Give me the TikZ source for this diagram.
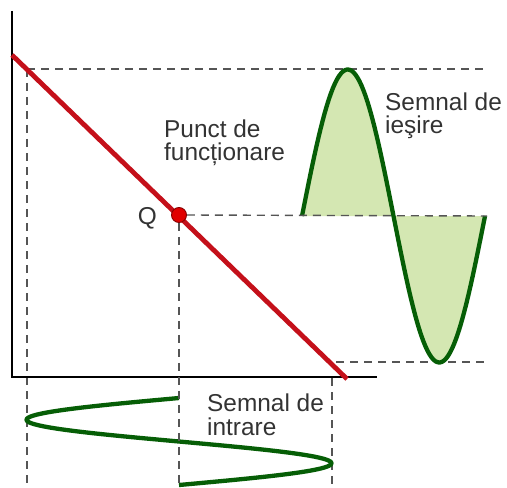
\documentclass[tikz,border=0pt]{standalone}
\usepackage{fontspec}
\setmainfont{Liberation Sans}
\usepackage{xcolor}
\usetikzlibrary{positioning,calc}

\definecolor{loadred}{HTML}{C4101A}
\definecolor{dotred}{HTML}{E00000}
\definecolor{sigdark}{HTML}{065E06}
\definecolor{sigfill}{HTML}{D4E7B2}
\definecolor{guidegray}{HTML}{555555}
\definecolor{txtgray}{HTML}{333333}

\begin{document}
\begin{tikzpicture}[x=1bp, y=-1bp,
  axis/.style={draw=black, line width=1.6bp},
  guide/.style={draw=guidegray, line width=1.4bp, dash pattern=on 8bp off 6bp},
  load/.style={draw=loadred, line width=4.8bp},
  sig/.style={draw=sigdark, line width=4.3bp, line join=round},
  qdot/.style={circle, fill=dotred, draw=dotred!60!black, line width=0.9bp, minimum size=15bp, inner sep=0pt},
  lbl/.style={font=\fontsize{24.5}{23.5}\selectfont, text=txtgray, align=left, inner sep=0pt}
]
\useasboundingbox (0,0) rectangle (507,488);

% Axes
\coordinate (O) at (12,377);
\coordinate (ytop) at (12,11);
\coordinate (xend) at (377,377);

% Guide end points
\coordinate (tl) at (27,69);
\coordinate (tr) at (487,69);
\coordinate (mr) at (487,216);
\coordinate (bl) at (336,362);
\coordinate (br) at (487,362);
\coordinate (lb) at (27,488);
\coordinate (qb) at (179,488);
\coordinate (rt) at (332,378);
\coordinate (rb) at (332,488);

% Load line end points
\coordinate (rstart) at (12,55);
\coordinate (rend) at (347,379);

% Output signal fill
\fill[sigfill] (302,216) -- plot[domain=0:360, samples=90] ({302+\x/360*183},{216-146.5*sin(\x)}) -- cycle;

% Dashed guides
\draw[guide] (tl) -- (tr);
\draw[guide] (tl) -- (lb);
\draw[guide] (bl) -- (br);
\draw[guide] (rt) -- (rb);

\draw[axis] (ytop) -- (O) -- (xend);

% Output signal
\draw[sig] plot[domain=0:360, samples=90] ({302+\x/360*183},{216-146.5*sin(\x)});

% Input signal
\draw[sig] plot[domain=0:360, samples=90] ({179-152.5*sin(\x)},{398+\x/360*87});

% Load line and operating point
\draw[load] (rstart) -- (rend);
\node[qdot] (Q) at (179,215) {};
\draw[guide] (Q.east) -- (mr);
\draw[guide] (Q.south) -- (qb);

% Labels
\node[lbl, anchor=base east] (qlbl) at (157,224) {Q};
\node[lbl, anchor=base west] (punct) at (164,161) {Punct de\\funcționare};
\node[lbl, anchor=base west] (iesire) at (385,134) {Semnal de\\ieşire};
\node[lbl, anchor=base west] (intrare) at (207,435) {Semnal de\\intrare};

\end{tikzpicture}
\end{document}
